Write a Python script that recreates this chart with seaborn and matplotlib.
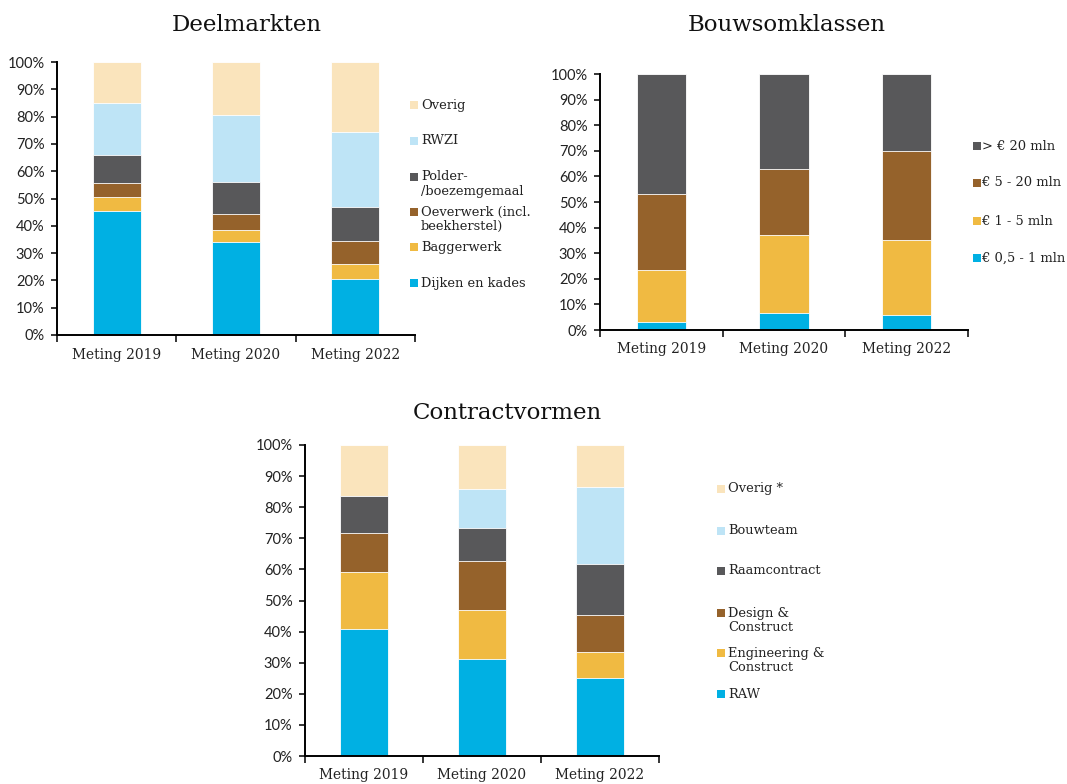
import matplotlib
matplotlib.use("Agg")
import matplotlib.pyplot as plt
from matplotlib.patches import Rectangle
import seaborn as sns
import numpy as np

# ---------------- data ----------------
categories = ["Meting 2019", "Meting 2020", "Meting 2022"]

deel_labels = ["Dijken en kades", "Baggerwerk", "Oeverwerk (incl.\nbeekherstel)",
               "Polder-\n/boezemgemaal", "RWZI", "Overig"]
deel_dijken = [45.5, 34.0, 20.5]
deel_bagger = [5.2, 4.5, 5.5]
deel_oever = [4.8, 5.7, 8.6]
deel_polder = [10.3, 11.8, 12.2]
deel_rwzi = [19.2, 24.5, 27.4]
deel_overig = [15.0, 19.5, 25.8]

bouw_labels = ["€ 0,5 - 1 mln", "€ 1 - 5 mln", "€ 5 - 20 mln", "> € 20 mln"]
bouw_05_1 = [3.3, 6.7, 6.0]
bouw_1_5 = [20.0, 30.5, 29.0]
bouw_5_20 = [29.7, 25.8, 35.0]
bouw_20 = [47.0, 37.0, 30.0]

contr_labels = ["RAW", "Engineering &\nConstruct", "Design &\nConstruct",
                "Raamcontract", "Bouwteam", "Overig *"]
contr_raw = [40.8, 31.3, 25.0]
contr_ec = [18.5, 15.7, 8.5]
contr_dc = [12.4, 15.7, 11.7]
contr_raam = [11.9, 10.5, 16.6]
contr_bouwteam = [0.0, 12.6, 24.7]
contr_overig = [16.4, 14.2, 13.5]

titles = ["Deelmarkten", "Bouwsomklassen", "Contractvormen"]
y_ticks = list(range(0, 101, 10))

# ---------------- style ----------------
BLUE = "#00B0E3"
YELLOW = "#F0BA42"
BROWN = "#95622B"
DGRAY = "#58585A"
LBLUE = "#BEE4F6"
BEIGE = "#FAE4BC"

sns.set_theme(style="ticks")
plt.rcParams["font.family"] = ["DejaVu Serif"]
SERIF = "DejaVu Serif"
SANS = "Lato"

W, H = 1067, 784
fig = plt.figure(figsize=(W / 100, H / 100), dpi=100)


def px_axes(left, top, right, bottom):
    return fig.add_axes([left / W, 1 - bottom / H, (right - left) / W, (bottom - top) / H])


def draw_stack(ax, series, colors):
    cum = np.zeros(len(categories))
    cums = []
    for s in series:
        cum = cum + np.array(s)
        cums.append(cum.copy())
    for c, col in reversed(list(zip(cums, colors))):
        sns.barplot(x=categories, y=list(c), color=col, width=0.4, saturation=1,
                    edgecolor="white", linewidth=0.6, ax=ax)
    ax.set_xlim(-0.5, 2.5)
    ax.set_ylim(0, 100)
    ax.set_xlabel("")
    ax.set_ylabel("")
    ax.set_yticks(y_ticks)
    ax.set_yticklabels([f"{v}%" for v in y_ticks], fontfamily=SANS, fontsize=10.5)
    ax.set_xticks(range(len(categories)))
    ax.set_xticklabels(categories, fontfamily=SERIF, fontsize=9.9)
    ax.set_xticks([-0.5, 0.5, 1.5, 2.5], minor=True)
    ax.tick_params(axis="x", which="major", length=0, pad=9, colors="#222222")
    ax.tick_params(axis="x", which="minor", length=5, width=1.1, direction="out", color="black")
    ax.tick_params(axis="y", length=4, width=1.1, direction="out", pad=5, color="black",
                   labelcolor="#222222")
    for sp in ["top", "right"]:
        ax.spines[sp].set_visible(False)
    for sp in ["left", "bottom"]:
        ax.spines[sp].set_linewidth(1.4)
        ax.spines[sp].set_color("black")
    ax.set_facecolor("white")


def draw_legend(x_sq, x_txt, ys, labels, colors, fs=9.4, line_h=14.5):
    for y, lab, col in zip(ys, labels, colors):
        fig.add_artist(Rectangle(((x_sq) / W, 1 - (y + 3.8) / H), 7.6 / W, 7.6 / H,
                                 transform=fig.transFigure, facecolor=col,
                                 edgecolor="none"))
        for i, line in enumerate(lab.split("\n")):
            fig.text(x_txt / W, 1 - (y + i * line_h) / H, line, fontfamily=SERIF,
                     fontsize=fs, va="center", ha="left", color="#222222")


# ---- Deelmarkten ----
ax1 = px_axes(57, 62, 415, 335)
deel_series = [deel_dijken, deel_bagger, deel_oever, deel_polder, deel_rwzi, deel_overig]
deel_colors = [BLUE, YELLOW, BROWN, DGRAY, LBLUE, BEIGE]
draw_stack(ax1, deel_series, deel_colors)
draw_legend(410, 421, [283, 247, 212, 177, 141, 105], deel_labels, deel_colors)

# ---- Bouwsomklassen ----
ax2 = px_axes(600, 74, 968, 330)
bouw_series = [bouw_05_1, bouw_1_5, bouw_5_20, bouw_20]
bouw_colors = [BLUE, YELLOW, BROWN, DGRAY]
draw_stack(ax2, bouw_series, bouw_colors)
draw_legend(973, 982, [258, 221, 183, 146], bouw_labels, bouw_colors)

# ---- Contractvormen ----
ax3 = px_axes(305, 445, 659, 756)
contr_series = [contr_raw, contr_ec, contr_dc, contr_raam, contr_bouwteam, contr_overig]
contr_colors = [BLUE, YELLOW, BROWN, DGRAY, LBLUE, BEIGE]
draw_stack(ax3, contr_series, contr_colors)
draw_legend(717, 728, [694, 653, 613, 571, 531, 489], contr_labels, contr_colors)

# ---- titles ----
for t, (cx, cy) in zip(titles, [(247, 25), (787, 25), (507, 413)]):
    fig.text(cx / W, 1 - cy / H, t, fontfamily=SERIF, fontsize=16.5, ha="center",
             va="center", color="#111111")

fig.savefig("out.png", dpi=100, facecolor="white")
